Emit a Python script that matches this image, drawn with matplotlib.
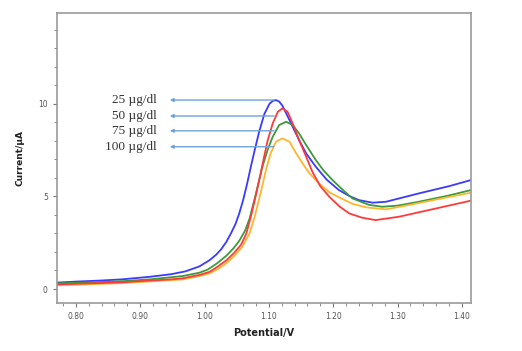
import matplotlib.pyplot as plt
import numpy as np

# potential (V) / current (uA)
x_blue = [0.767, 0.80, 0.84, 0.871, 0.915, 0.948, 0.970, 0.992, 1.008, 1.018, 1.026, 1.034, 1.041, 1.048,
          1.054, 1.060, 1.066, 1.072, 1.078, 1.085, 1.093, 1.101, 1.106, 1.111, 1.116, 1.121, 1.127, 1.137,
          1.147, 1.158, 1.173, 1.190, 1.209, 1.225, 1.240, 1.261, 1.282, 1.333, 1.380, 1.414]
y_blue = [0.34, 0.40, 0.46, 0.52, 0.66, 0.80, 0.95, 1.22, 1.56, 1.85, 2.15, 2.55, 3.00, 3.50,
          4.08, 4.80, 5.65, 6.60, 7.50, 8.50, 9.45, 10.00, 10.15, 10.20, 10.12, 9.90, 9.48, 8.76,
          8.04, 7.32, 6.60, 5.90, 5.34, 5.02, 4.80, 4.66, 4.71, 5.16, 5.55, 5.88]

x_red = [0.767, 0.80, 0.871, 0.915, 0.948, 0.966, 0.992, 1.008, 1.020, 1.034, 1.046, 1.057, 1.065,
         1.072, 1.080, 1.087, 1.093, 1.098, 1.106, 1.114, 1.121, 1.129, 1.137, 1.147, 1.158, 1.168,
         1.180, 1.194, 1.210, 1.225, 1.245, 1.266, 1.302, 1.360, 1.414]
y_red = [0.25, 0.28, 0.36, 0.46, 0.52, 0.58, 0.76, 0.93, 1.20, 1.55, 1.95, 2.40, 3.00,
         3.90, 5.10, 6.20, 7.20, 8.00, 8.94, 9.57, 9.75, 9.57, 8.94, 8.04, 7.14, 6.30,
         5.55, 4.98, 4.45, 4.08, 3.85, 3.72, 3.90, 4.35, 4.77]

x_green = [0.767, 0.80, 0.871, 0.915, 0.966, 0.992, 1.005, 1.020, 1.034, 1.045, 1.054, 1.063, 1.070,
           1.080, 1.090, 1.098, 1.106, 1.116, 1.127, 1.137, 1.147, 1.158, 1.173, 1.185, 1.199, 1.215,
           1.230, 1.255, 1.276, 1.300, 1.333, 1.380, 1.414]
y_green = [0.31, 0.33, 0.42, 0.52, 0.70, 0.88, 1.05, 1.40, 1.80, 2.20, 2.60, 3.15, 3.80,
           5.16, 6.60, 7.50, 8.22, 8.85, 9.03, 8.85, 8.40, 7.77, 6.96, 6.40, 5.88, 5.35,
           4.89, 4.55, 4.44, 4.50, 4.71, 5.05, 5.34]

x_orange = [0.767, 0.80, 0.871, 0.915, 0.966, 0.992, 1.008, 1.022, 1.036, 1.048, 1.059, 1.070, 1.078,
            1.088, 1.096, 1.103, 1.111, 1.121, 1.132, 1.142, 1.153, 1.163, 1.178, 1.195, 1.209,
            1.230, 1.251, 1.282, 1.320, 1.370, 1.414]
y_orange = [0.20, 0.23, 0.32, 0.41, 0.52, 0.70, 0.85, 1.10, 1.45, 1.85, 2.30, 3.00, 3.90,
            5.30, 6.50, 7.35, 7.95, 8.13, 7.95, 7.35, 6.75, 6.25, 5.70, 5.20, 4.95,
            4.60, 4.41, 4.30, 4.55, 4.90, 5.20]

labels = ["25 µg/dl", "50 µg/dl", "75 µg/dl", "100 µg/dl"]
label_y = [10.2, 9.34, 8.54, 7.68]

fig = plt.figure(figsize=(5.22, 3.51), dpi=100)
ax = fig.add_axes([0.109, 0.137, 0.793, 0.826])

ax.plot(x_blue, y_blue, color="#3a3aff", linewidth=1.3)
ax.plot(x_green, y_green, color="#3c9a3c", linewidth=1.3)
ax.plot(x_orange, y_orange, color="#ffb52e", linewidth=1.3)
ax.plot(x_red, y_red, color="#ff3a3a", linewidth=1.3)

for lab, yy in zip(labels, label_y):
    ax.annotate("", xy=(0.946, yy), xytext=(1.108, yy),
                arrowprops=dict(arrowstyle="-|>", color="#6fa3d8", lw=1.0,
                                mutation_scale=5, shrinkA=0, shrinkB=0))
    ax.text(0.926, yy, lab, ha="right", va="center", fontsize=9.5,
            family="Liberation Serif", color="#333333")

ax.set_xlim(0.7705, 1.414)
ax.set_ylim(-0.75, 14.9)

ax.set_xticks(np.arange(0.8, 1.41, 0.1))
ax.set_xticklabels(["0.80", "0.90", "1.00", "1.10", "1.20", "1.30", "1.40"])
ax.set_xticks(np.arange(0.78, 1.415, 0.02), minor=True)
ax.set_yticks([0, 5, 10])
ax.set_yticks(np.arange(0, 15, 1), minor=True)

ax.tick_params(which="both", direction="out", colors="#777777", labelsize=5.5, labelcolor="#555555")
ax.tick_params(which="major", length=3)
ax.tick_params(which="minor", length=2)
for s in ax.spines.values():
    s.set_color("#999999")
    s.set_linewidth(1.2)

ax.set_xlabel("Potential/V", fontsize=7, fontweight="bold", color="#222222", labelpad=5)
ax.set_ylabel("Current/µA", fontsize=6.5, fontweight="bold", color="#222222", labelpad=10)

fig.savefig("out.png", dpi=100)
